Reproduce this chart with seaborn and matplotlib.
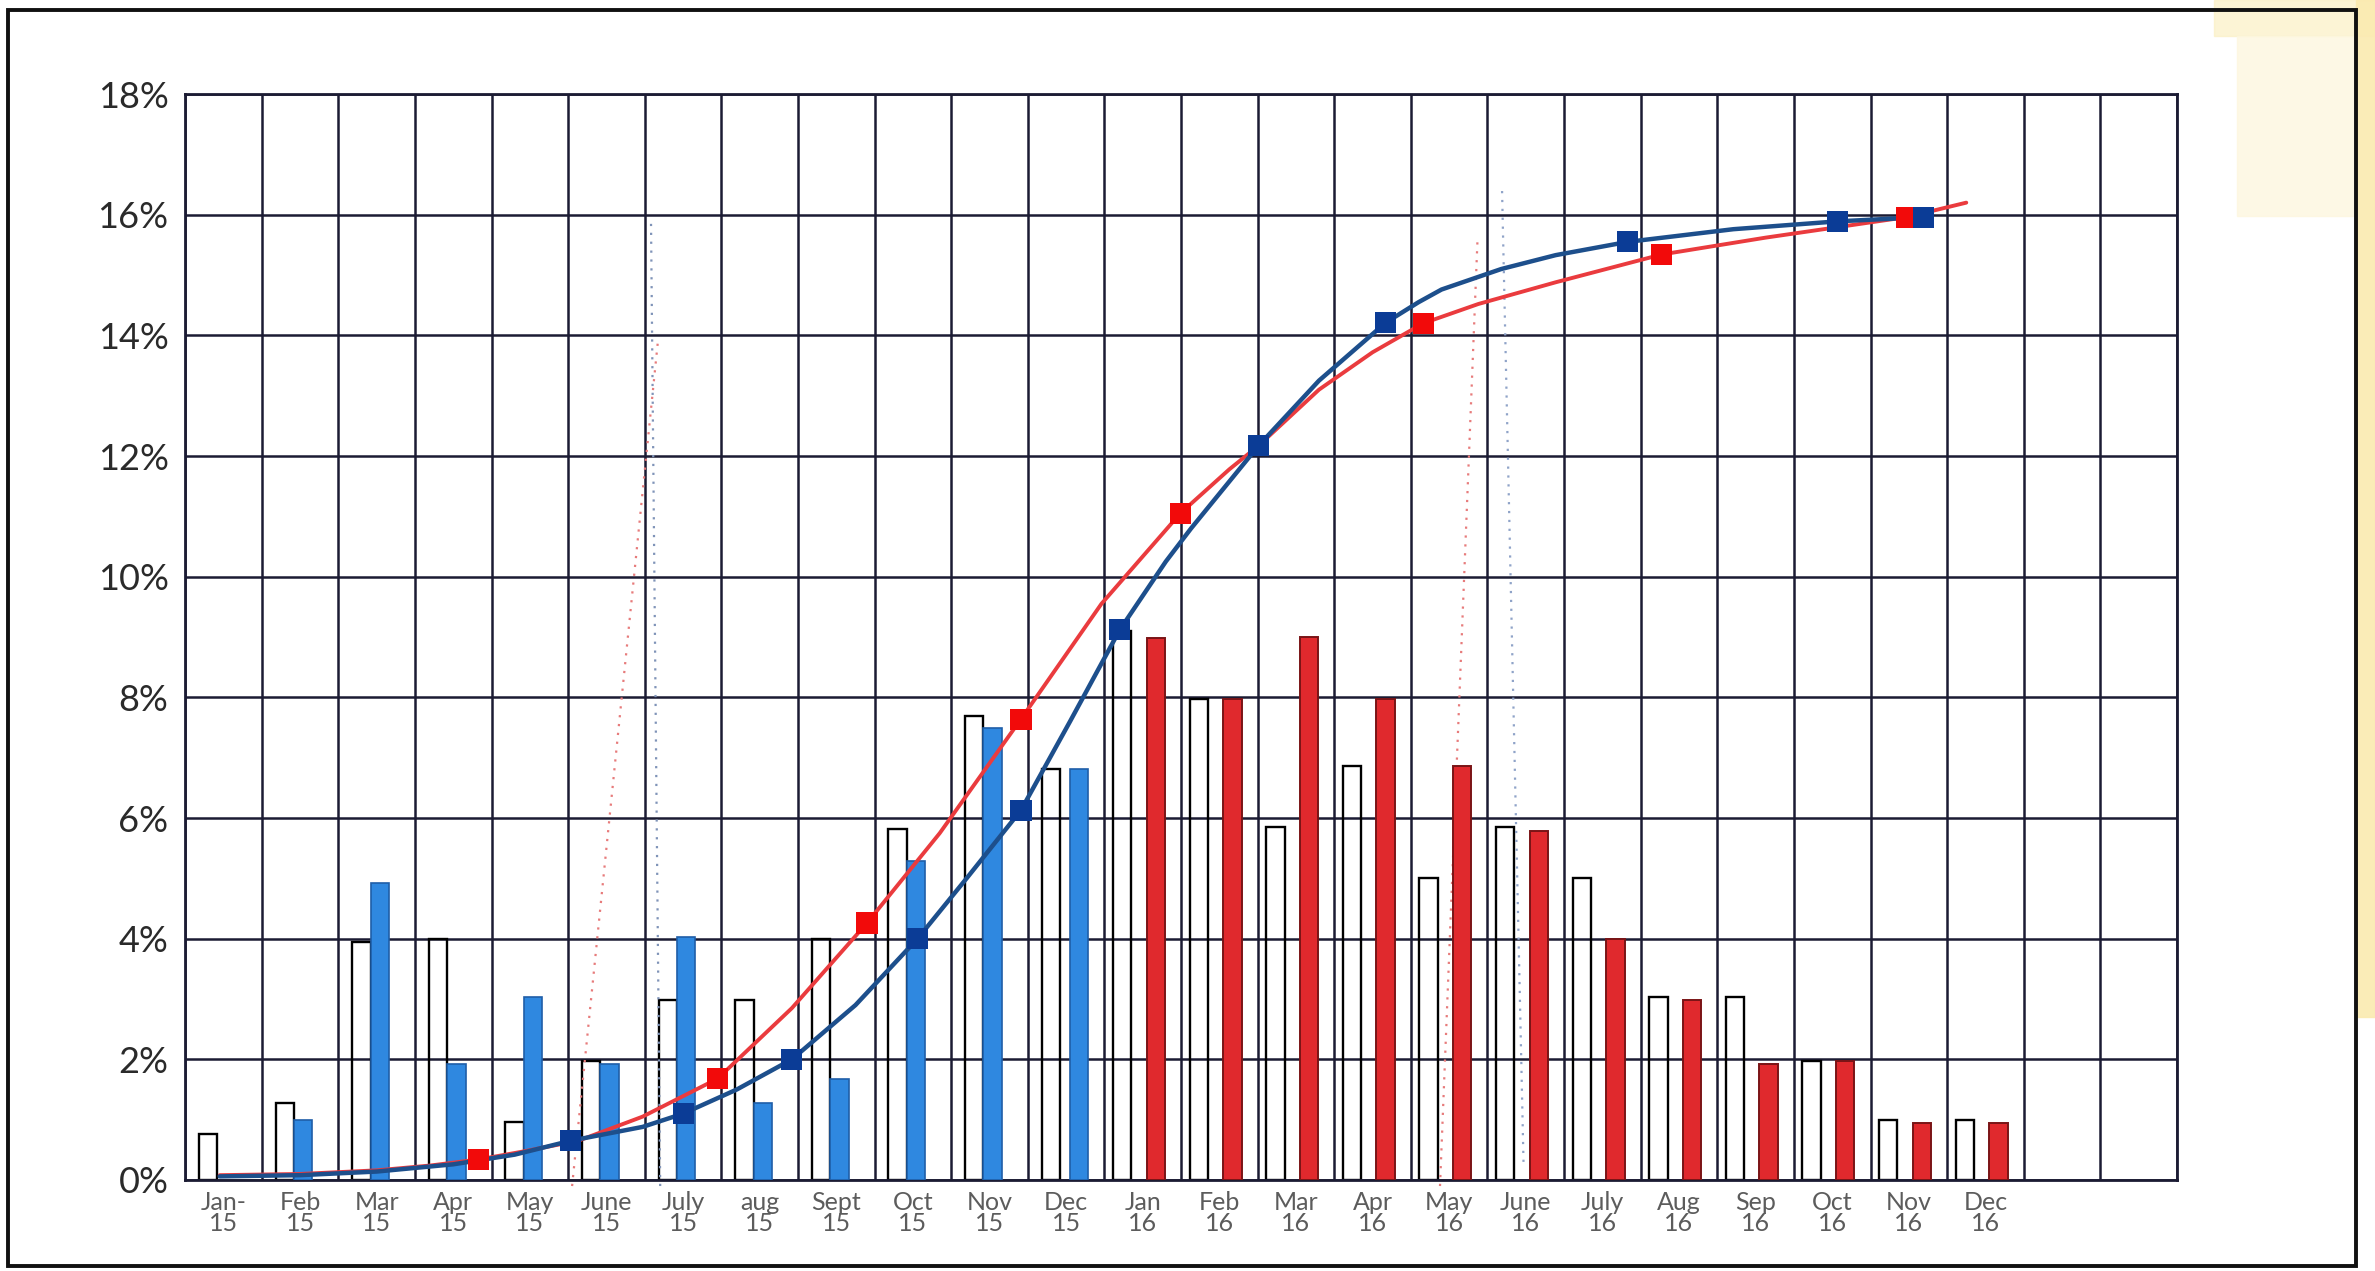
import numpy as np
import pandas as pd
import seaborn as sns
import matplotlib.pyplot as plt
from matplotlib.patches import Rectangle

# -- Data (x in month slots, Jan-15 = 0; y in %)
months = ["Jan-\n15", "Feb\n15", "Mar\n15", "Apr\n15", "May\n15", "June\n15",
          "July\n15", "aug\n15", "Sept\n15", "Oct\n15", "Nov\n15", "Dec\n15",
          "Jan\n16", "Feb\n16", "Mar\n16", "Apr\n16", "May\n16", "June\n16",
          "July\n16", "Aug\n16", "Sep\n16", "Oct\n16", "Nov\n16", "Dec\n16"]
plan_pct = [0.77, 1.27, 3.95, 4.0, 0.96, 1.97, 2.99, 2.99, 4.0, 5.81, 7.69, 6.82,
            9.1, 7.97, 5.85, 6.87, 5.0, 5.85, 5.0, 3.04, 3.04, 1.98, 1.0, 1.0]
actual_2015 = [np.nan, 1.0, 4.93, 1.93, 3.04, 1.92, 4.03, 1.27, 1.68, 5.29, 7.5, 6.82]
actual_2016 = [8.99, 7.97, 9.0, 7.97, 6.87, 5.78, 4.0, 2.99, 1.93, 1.98, 0.95, 0.95]

blue_curve_x = [-0.05, 1.0, 2.0, 3.0, 3.8, 4.53, 5.47, 6.0, 6.7, 7.42, 8.25, 9.06,
                9.7, 10.41, 11.05, 11.7, 12.3, 12.63, 13.51, 14.3, 15.17, 15.6, 15.9,
                16.68, 17.39, 18.33, 19.71, 21.07, 22.19]
blue_curve_y = [0.06, 0.08, 0.14, 0.26, 0.42, 0.65, 0.88, 1.10, 1.5, 2.0, 2.9, 4.0,
                5.0, 6.13, 7.6, 9.12, 10.25, 10.8, 12.17, 13.25, 14.21, 14.55, 14.76,
                15.1, 15.33, 15.55, 15.76, 15.89, 15.96]
blue_mark_x = [4.53, 6.0, 7.42, 9.06, 10.41, 11.7, 13.51, 15.17, 18.33, 21.07, 22.19]
blue_mark_y = [0.65, 1.10, 2.0, 4.0, 6.13, 9.12, 12.17, 14.21, 15.55, 15.89, 15.96]

red_curve_x = [-0.05, 1.0, 2.0, 2.7, 3.33, 3.9, 4.63, 5.47, 6.45, 7.42, 8.4, 9.35,
               10.41, 11.46, 12.49, 13.13, 13.51, 14.3, 15.0, 15.66, 16.38, 17.39,
               18.77, 20.13, 21.97, 22.75]
red_curve_y = [0.08, 0.1, 0.16, 0.24, 0.34, 0.47, 0.65, 1.05, 1.68, 2.85, 4.26, 5.75,
               7.64, 9.55, 11.05, 11.78, 12.17, 13.1, 13.72, 14.2, 14.52, 14.88,
               15.34, 15.62, 15.96, 16.2]
red_mark_x = [3.33, 6.45, 8.4, 10.41, 12.49, 15.66, 18.77, 21.97]
red_mark_y = [0.34, 1.68, 4.26, 7.64, 11.05, 14.2, 15.34, 15.96]

# dotted guide lines
red_guide1_x, red_guide1_y = [4.55, 5.67], [-0.1, 13.9]
blue_guide1_x, blue_guide1_y = [5.70, 5.58], [-0.1, 15.9]
red_guide2_x, red_guide2_y = [15.88, 16.37], [-0.1, 15.6]
blue_guide2_x, blue_guide2_y = [16.97, 16.69], [0.3, 16.4]

# -- Style
sns.set_theme(style="white")
plt.rcParams['font.family'] = ['Lato', 'DejaVu Sans']

GRID = "#1b1b33"
BLUE_BAR = "#2f88e0"
RED_BAR = "#e0292d"
BLUE_LINE = "#1d4f8c"
BLUE_MARK = "#0b3c96"
RED_LINE = "#ea3b3e"
RED_MARK = "#f20a0a"

fig = plt.figure(figsize=(23.75, 12.71), dpi=100)
ax = fig.add_axes([0.078, 0.0716, 0.8386, 0.8544])

idx = np.arange(len(months))
white_x = idx + np.where(idx < 12, -0.2, -0.27)
blue_idx = idx[:12]
blue_x = blue_idx + np.where(blue_idx < 11, 0.04, 0.17)
red_x = idx[12:] + 0.17
bar_w = 0.24

df_plan = pd.DataFrame({"x": white_x, "v": plan_pct})
df_blue = pd.DataFrame({"x": blue_x, "v": actual_2015}).dropna()
df_red = pd.DataFrame({"x": red_x, "v": actual_2016})


def native_width(xs):
    return bar_w / np.diff(np.sort(np.asarray(xs))).min()


sns.barplot(data=df_plan, x="x", y="v", native_scale=True, errorbar=None,
            width=native_width(df_plan["x"]), fill=False, color="black",
            linewidth=1.7, ax=ax, zorder=2)
sns.barplot(data=df_blue, x="x", y="v", native_scale=True, errorbar=None,
            width=native_width(df_blue["x"]), color=BLUE_BAR, saturation=1,
            edgecolor="#1f5ea8", linewidth=1.2, ax=ax, zorder=3)
sns.barplot(data=df_red, x="x", y="v", native_scale=True, errorbar=None,
            width=native_width(df_red["x"]), color=RED_BAR, saturation=1,
            edgecolor="#7a1416", linewidth=1.4, ax=ax, zorder=3)

# dotted guides
for gx, gy, c in [(red_guide1_x, red_guide1_y, "#e77b7b"),
                  (blue_guide1_x, blue_guide1_y, "#7f93b8"),
                  (red_guide2_x, red_guide2_y, "#e77b7b"),
                  (blue_guide2_x, blue_guide2_y, "#8fa3c8")]:
    ax.plot(gx, gy, color=c, lw=1.6, ls=(0, (1, 3)), zorder=2.5, clip_on=False)

# s-curves
sns.lineplot(x=red_curve_x, y=red_curve_y, sort=False, estimator=None,
             color=RED_LINE, lw=2.8, ax=ax, zorder=4)
sns.lineplot(x=blue_curve_x, y=blue_curve_y, sort=False, estimator=None,
             color=BLUE_LINE, lw=3.2, ax=ax, zorder=4.5)
sns.scatterplot(x=red_mark_x, y=red_mark_y, marker="s", s=230, color=RED_MARK,
                edgecolor="none", ax=ax, zorder=5)
sns.scatterplot(x=blue_mark_x, y=blue_mark_y, marker="s", s=230, color=BLUE_MARK,
                edgecolor="none", ax=ax, zorder=5.5)

# axes, grid
ax.set_xlim(-0.5, 25.5)
ax.set_ylim(0, 18)
ax.set_xticks(idx)
ax.set_xticklabels(months, fontsize=18, color="#5c5c5c", fontweight="normal",
                   linespacing=0.9)
ax.set_xticks(np.arange(-0.5, 25.6, 1), minor=True)
yt = np.arange(0, 19, 2)
ax.set_yticks(yt)
ax.set_yticklabels([f"{v}%" for v in yt], fontsize=26, color="#2a2a2a",
                   fontweight="normal")
ax.tick_params(axis="both", which="both", length=0)
ax.tick_params(axis="y", pad=12)
ax.tick_params(axis="x", pad=8)
ax.grid(False)
ax.grid(True, axis="x", which="minor", color=GRID, lw=1.8, zorder=0.5)
ax.grid(True, axis="y", which="major", color=GRID, lw=1.8, zorder=0.5)
ax.set_axisbelow(True)
ax.set_xlabel("")
ax.set_ylabel("")
for sp in ax.spines.values():
    sp.set_visible(True)
    sp.set_color(GRID)
    sp.set_linewidth(2.0)

# page decoration: faint yellow corner shapes and outer frame
fig.patches.append(Rectangle((0.932, 0.972), 0.068, 0.028, transform=fig.transFigure,
                             color="#fbf0c4", alpha=0.7, zorder=0))
fig.patches.append(Rectangle((0.942, 0.83), 0.05, 0.142, transform=fig.transFigure,
                             color="#fdf7df", alpha=0.8, zorder=0))
fig.patches.append(Rectangle((0.992, 0.2), 0.008, 0.8, transform=fig.transFigure,
                             color="#faeab0", alpha=0.9, zorder=0))
fig.patches.append(Rectangle((0.0035, 0.004), 0.9885, 0.9885, transform=fig.transFigure,
                             fill=False, edgecolor="#111111", lw=2.8, zorder=1))

fig.savefig("out.png", dpi=100)
